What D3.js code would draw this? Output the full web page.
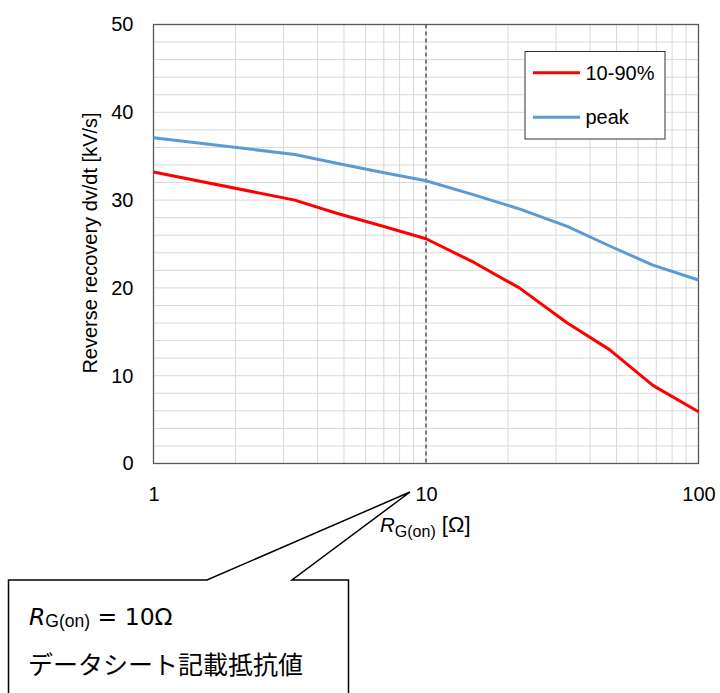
<!DOCTYPE html>
<html>
<head>
<meta charset="utf-8">
<script src="https://cdn.jsdelivr.net/npm/d3@7/dist/d3.min.js"></script>
<style>
  body { margin: 0; background: #fff; }
  svg { display: block; font-family: "Liberation Sans", Arial, sans-serif; }
</style>
</head>
<body>
<svg id="chart" width="720" height="693"></svg>
<script>
// gate resistance [ohm]
const rg = [1, 3.3, 4.7, 6.8, 10, 15, 22, 33, 47, 68, 100];
// reverse recovery dv/dt [kV/s]
const dv1090 = [33.2, 30.0, 28.5, 27.1, 25.6, 22.9, 20.0, 16.0, 13.0, 8.9, 5.9];
const dvPeak = [37.1, 35.2, 34.2, 33.2, 32.2, 30.6, 29.0, 27.0, 24.8, 22.6, 20.9];
const yTicks = [0, 10, 20, 30, 40, 50];
const xTicks = [1, 10, 100];
const markerRg = 10;

const seriesList = [
  { name: "10-90%", values: dv1090, color: "#ff0000" },
  { name: "peak", values: dvPeak, color: "#5b9bd5" }
];

const svg = d3.select("#chart");
const plotL = 153.5, plotR = 698.5, plotT = 24.5, plotB = 463.5;
const FONT = 20;

const x = d3.scaleLog().domain([1, 100]).range([plotL, plotR]);
const y = d3.scaleLinear().domain([0, 50]).range([plotB, plotT]);

// grid
const grid = svg.append("g").attr("stroke", "#d9d9d9").attr("stroke-width", 1);
grid.selectAll(".hg")
  .data(d3.range(2, 50, 2))
  .join("line")
  .attr("x1", plotL).attr("x2", plotR)
  .attr("y1", d => y(d)).attr("y2", d => y(d));
grid.selectAll(".vg")
  .data(x.ticks().filter(d => d > 1 && d < 100))
  .join("line")
  .attr("y1", plotT).attr("y2", plotB)
  .attr("x1", d => x(d)).attr("x2", d => x(d));

// datasheet value marker
svg.append("line")
  .attr("x1", x(markerRg)).attr("x2", x(markerRg))
  .attr("y1", plotT).attr("y2", plotB)
  .attr("stroke", "#404040")
  .attr("stroke-width", 1.3)
  .attr("stroke-dasharray", "4,3");

// plot frame
svg.append("rect")
  .attr("x", plotL).attr("y", plotT)
  .attr("width", plotR - plotL).attr("height", plotB - plotT)
  .attr("fill", "none")
  .attr("stroke", "#595959")
  .attr("stroke-width", 1.3);

// series
const line = d3.line()
  .x((d, i) => x(rg[i]))
  .y(d => y(d));

svg.selectAll(".series")
  .data(seriesList)
  .join("path")
  .attr("fill", "none")
  .attr("stroke", d => d.color)
  .attr("stroke-width", 3)
  .attr("stroke-linejoin", "round")
  .attr("d", d => line(d.values));

// axes
const yAxis = svg.append("g")
  .attr("transform", `translate(${plotL},0)`)
  .call(d3.axisLeft(y).tickValues(yTicks).tickSize(0).tickPadding(20));
const xAxis = svg.append("g")
  .attr("transform", `translate(0,${plotB})`)
  .call(d3.axisBottom(x).tickValues(xTicks).tickFormat(d3.format("d")).tickSize(0).tickPadding(23));
[yAxis, xAxis].forEach(g => {
  g.select(".domain").remove();
  g.selectAll("text").attr("font-size", FONT).attr("fill", "#000")
    .attr("font-family", "'Liberation Sans', Arial, sans-serif");
});

// axis titles
svg.append("text")
  .attr("transform", "translate(97,243) rotate(-90)")
  .attr("text-anchor", "middle")
  .attr("font-size", FONT)
  .text("Reverse recovery dv/dt [kV/s]");

const xt = svg.append("text")
  .attr("x", 380)
  .attr("y", 532)
  .attr("font-size", 20.5);
xt.append("tspan").attr("font-style", "italic").text("R");
xt.append("tspan").attr("font-size", 16).attr("dy", 5).text("G(on)");
xt.append("tspan").attr("dy", -5).attr("font-size", 22).text(" [Ω]");

// legend
const lg = svg.append("g");
lg.append("rect")
  .attr("x", 525).attr("y", 51.5)
  .attr("width", 140).attr("height", 87.5)
  .attr("fill", "#fff")
  .attr("stroke", "#333")
  .attr("stroke-width", 1);
const items = lg.selectAll(".item")
  .data(seriesList)
  .join("g")
  .attr("transform", (d, i) => `translate(0,${72.7 + i * 44.6})`);
items.append("line")
  .attr("x1", 533).attr("x2", 580)
  .attr("stroke", d => d.color)
  .attr("stroke-width", 3);
items.append("text")
  .attr("x", 585.5)
  .attr("y", 7)
  .attr("font-size", FONT)
  .text(d => d.name);

// callout
const tip = [x(markerRg) - 16, 492];
const callout = d3.path();
callout.moveTo(8.5, 700);
callout.lineTo(8.5, 580);
callout.lineTo(207, 580);
callout.lineTo(tip[0], tip[1]);
callout.lineTo(292, 580);
callout.lineTo(348.5, 580);
callout.lineTo(348.5, 700);
svg.append("path")
  .attr("d", callout.toString())
  .attr("fill", "#fff")
  .attr("stroke", "#000")
  .attr("stroke-width", 1.5);

const ct = svg.append("text")
  .attr("x", 29)
  .attr("y", 625)
  .attr("font-family", "'DejaVu Sans', sans-serif")
  .attr("font-size", 23.5);
ct.append("tspan").attr("font-style", "italic").text("R");
ct.append("tspan").attr("font-size", 17.5).attr("font-family", "'Liberation Sans', Arial, sans-serif")
  .attr("dy", 2).text("G(on)");
ct.append("tspan").attr("dy", -2).text(" = 10Ω");

svg.append("text")
  .attr("x", 28)
  .attr("y", 674)
  .attr("font-size", 25)
  .attr("font-family", "'Noto Sans CJK JP', sans-serif")
  .text("データシート記載抵抗値");
</script>
</body>
</html>
